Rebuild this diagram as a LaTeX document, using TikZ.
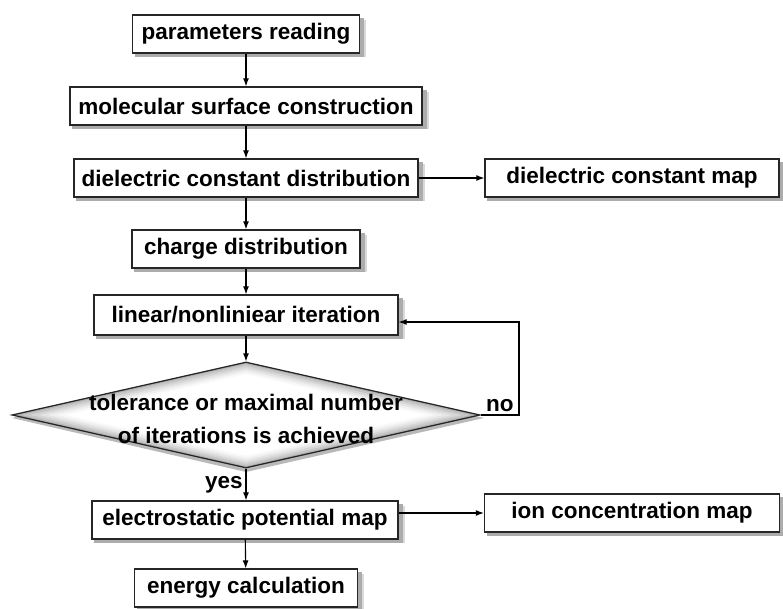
\documentclass[tikz,border=0pt]{standalone}
\usepackage{fontspec}
\setmainfont{Liberation Sans}
\usetikzlibrary{shapes.geometric,arrows.meta}
\pgfdeclarelayer{background}
\pgfsetlayers{background,main}

\begin{document}
\begin{tikzpicture}[x=0.025cm,y=-0.025cm]
\tikzstyle{stepbox}=[draw=black!85, line width=0.9pt, rectangle, minimum height=0.95cm, inner sep=0pt, fill=white, font=\bfseries\fontsize{16}{23}\selectfont]
\tikzstyle{decision}=[draw=black!85, line width=0.9pt, diamond, aspect=4.4, minimum width=11.7cm, minimum height=2.65cm, inner sep=0pt]
\tikzstyle{label}=[font=\bfseries\fontsize{16}{23}\selectfont, align=center, inner sep=2pt]
\tikzstyle{flow}=[-{Latex[length=0.2cm,width=0.15cm]}, line width=0.8pt]

\useasboundingbox (0,0) rectangle (783,609);

\draw (246,34) node[stepbox, minimum width=5.675cm] (params) {parameters reading};
\draw (246,106) node[stepbox, minimum width=8.8cm] (surface) {molecular surface construction};
\draw (246,178) node[stepbox, minimum width=8.6cm] (dielec) {dielectric constant distribution};
\draw (632,178) node[stepbox, minimum width=7.35cm] (dmap) {dielectric constant map};
\draw (246,249) node[stepbox, minimum width=5.7cm] (charge) {charge distribution};
\draw (246,315) node[stepbox, minimum width=7.6cm, minimum height=1cm] (iter) {linear/nonliniear iteration};
\draw (246,415) node[decision] (check) {};
\draw (246,419) node[label] (checktext) {tolerance or maximal number\\of iterations is achieved};
\draw (245,520) node[stepbox, minimum width=7.65cm] (epot) {electrostatic potential map};
\draw (632,513) node[stepbox, minimum width=7.375cm] (ionmap) {ion concentration map};
\draw (246,588) node[stepbox, minimum width=5.575cm] (energy) {energy calculation};
\coordinate (loop) at (519,322);

% soft shadows and the glow inside the diamond
\begin{pgfonlayer}{background}
\foreach \n in {params,surface,dielec,dmap,charge,iter,epot,ionmap,energy} {
  \fill[gray!30] ([shift={(3,3)}]\n.south west) rectangle ([shift={(6,6)}]\n.north east);
  \fill[gray!65] ([shift={(3,3)}]\n.south west) rectangle ([shift={(4,4)}]\n.north east);
}
\fill[gray!55, shift={(check.center)}] (-234,3) -- (0,-51) -- (238,3) -- (0,57) -- cycle;
\foreach \d/\c in {0/60,2/45,4/32,6/21,8/12,10/5,12/0}
  \fill[gray!\c, shift={(check.center)}] ({-234+4.53*\d},0) -- (0,{-53+1.026*\d}) -- ({234-4.53*\d},0) -- (0,{53-1.026*\d}) -- cycle;
\end{pgfonlayer}

\draw[flow] (params) -- (surface);
\draw[flow] (surface) -- (dielec);
\draw[flow] (dielec) -- (charge);
\draw[flow] (charge) -- (iter);
\draw[flow] (iter) -- (check);
\draw[flow] (check) -- node[label, left] (yes) {yes} (epot.north -| check.south);
\draw[flow] (epot) -- (energy);
\draw[flow] (dielec) -- (dmap);
\draw[flow] (epot.east |- ionmap.west) -- (ionmap.west);
\draw[flow] (check.east) -- node[label, above] (no) {no} (check.east -| loop) -- (loop) -- (loop -| iter.east);
\end{tikzpicture}
\end{document}
